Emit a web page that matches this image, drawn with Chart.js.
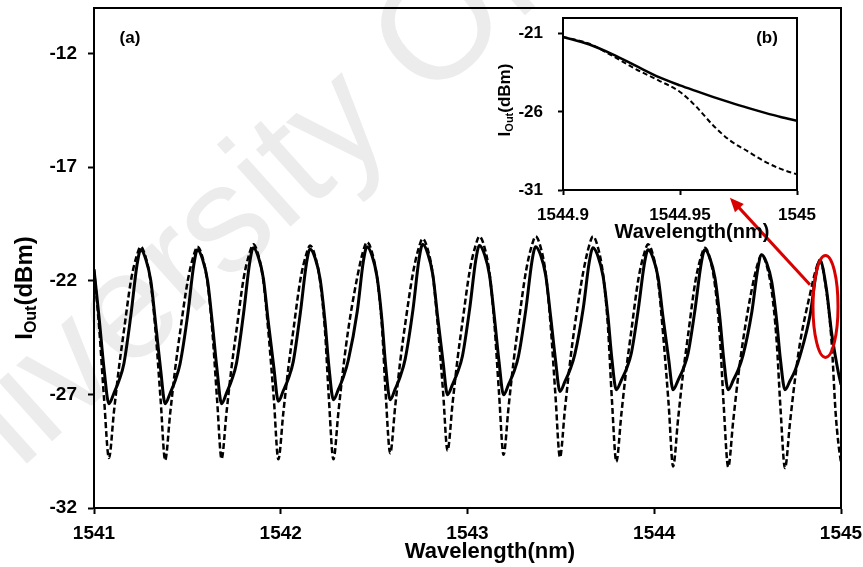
<!DOCTYPE html>
<html>
<head>
<meta charset="utf-8">
<script src="https://cdn.jsdelivr.net/npm/chart.js@4.4.1/dist/chart.umd.min.js"></script>
<style>
  body { margin: 0; background: #fff; }
  #wrap { position: relative; width: 863px; height: 567px; }
  #inset { position: absolute; left: 480px; top: 0; }
</style>
</head>
<body>
<div id="wrap">
  <canvas id="main" width="863" height="567"></canvas>
  <canvas id="inset" width="383" height="260"></canvas>
</div>
<script>
// main spectrum (a)
const wavelength = [
  1541.000, 1541.027, 1541.054, 1541.080,
  1541.107, 1541.134, 1541.160, 1541.198, 1541.230, 1541.250, 1541.277, 1541.304, 1541.330, 1541.357, 1541.381,
  1541.408, 1541.435, 1541.461, 1541.502, 1541.534, 1541.554, 1541.581, 1541.608, 1541.634, 1541.659, 1541.683,
  1541.710, 1541.737, 1541.763, 1541.801, 1541.833, 1541.853, 1541.880, 1541.907, 1541.933, 1541.963, 1541.987,
  1542.014, 1542.041, 1542.067, 1542.105, 1542.137, 1542.157, 1542.184, 1542.211, 1542.237, 1542.258, 1542.282,
  1542.309, 1542.336, 1542.362, 1542.410, 1542.442, 1542.462, 1542.489, 1542.516, 1542.542, 1542.562, 1542.586,
  1542.613, 1542.640, 1542.666, 1542.708, 1542.740, 1542.760, 1542.787, 1542.814, 1542.840, 1542.869, 1542.893,
  1542.920, 1542.947, 1542.973, 1543.012, 1543.044, 1543.064, 1543.091, 1543.118, 1543.144, 1543.169, 1543.193,
  1543.220, 1543.247, 1543.273, 1543.313, 1543.345, 1543.365, 1543.392, 1543.419, 1543.445, 1543.471, 1543.495,
  1543.522, 1543.549, 1543.575, 1543.620, 1543.652, 1543.672, 1543.699, 1543.726, 1543.752, 1543.773, 1543.797,
  1543.824, 1543.851, 1543.877, 1543.915, 1543.947, 1543.967, 1543.994, 1544.021, 1544.047, 1544.077, 1544.101,
  1544.128, 1544.155, 1544.181, 1544.219, 1544.251, 1544.271, 1544.298, 1544.325, 1544.351, 1544.372, 1544.396,
  1544.423, 1544.450, 1544.476, 1544.523, 1544.555, 1544.575, 1544.602, 1544.629, 1544.655, 1544.676, 1544.700,
  1544.727, 1544.754, 1544.780, 1544.835, 1544.867, 1544.887, 1544.921, 1544.950, 1544.971, 1544.986, 1545.000
];
const ioutSolid = [
  -21.50, -23.60, -25.90, -27.41,
  -26.94, -26.39, -25.65, -23.48, -21.32, -20.64, -21.05, -21.99, -23.89, -25.92, -27.41,
  -26.94, -26.39, -25.65, -23.48, -21.32, -20.64, -21.05, -21.99, -23.89, -25.92, -27.41,
  -26.93, -26.38, -25.63, -23.43, -21.24, -20.55, -20.96, -21.90, -23.79, -25.82, -27.30,
  -26.83, -26.30, -25.56, -23.41, -21.27, -20.60, -21.00, -21.93, -23.79, -25.78, -27.24,
  -26.77, -26.23, -25.49, -23.33, -21.17, -20.50, -20.90, -21.85, -23.74, -25.76, -27.24,
  -26.76, -26.21, -25.46, -23.27, -21.08, -20.40, -20.80, -21.72, -23.58, -25.56, -27.02,
  -26.56, -26.03, -25.31, -23.21, -21.11, -20.45, -20.84, -21.76, -23.60, -25.57, -27.02,
  -26.56, -26.04, -25.32, -23.24, -21.15, -20.50, -20.88, -21.77, -23.56, -25.47, -26.87,
  -26.43, -25.92, -25.23, -23.20, -21.18, -20.55, -20.93, -21.80, -23.55, -25.43, -26.80,
  -26.37, -25.88, -25.20, -23.23, -21.26, -20.64, -21.01, -21.87, -23.60, -25.44, -26.80,
  -26.37, -25.88, -25.20, -23.23, -21.26, -20.64, -21.01, -21.87, -23.60, -25.44, -26.80,
  -26.38, -25.91, -25.26, -23.35, -21.45, -20.86, -21.22, -22.05, -23.71, -25.49, -26.80,
  -26.40, -25.95, -25.32, -23.49, -21.67, -21.10, -22.31, -24.31, -25.38, -26.05, -26.57
];
const ioutDashed = [
  -21.50, -24.00, -27.20, -29.80,
  -27.75, -25.80, -24.22, -21.99, -20.87, -20.50, -20.97, -22.10, -24.26, -27.27, -29.90,
  -27.83, -25.86, -24.26, -22.00, -20.88, -20.50, -20.97, -22.09, -24.24, -27.22, -29.84,
  -27.76, -25.78, -24.18, -21.91, -20.78, -20.40, -20.87, -22.01, -24.18, -27.21, -29.86,
  -27.79, -25.81, -24.21, -21.96, -20.83, -20.45, -20.92, -22.05, -24.21, -27.23, -29.86,
  -27.76, -25.75, -24.12, -21.83, -20.68, -20.30, -20.76, -21.88, -24.02, -26.99, -29.59,
  -27.51, -25.53, -23.93, -21.66, -20.53, -20.15, -20.62, -21.73, -23.88, -26.86, -29.47,
  -27.40, -25.42, -23.82, -21.56, -20.43, -20.05, -20.53, -21.68, -23.89, -26.97, -29.66,
  -27.55, -25.53, -23.89, -21.59, -20.43, -20.05, -20.54, -21.70, -23.94, -27.05, -29.77,
  -27.63, -25.59, -23.94, -21.61, -20.44, -20.05, -20.55, -21.73, -24.01, -27.19, -29.96,
  -27.86, -25.85, -24.22, -21.93, -20.78, -20.40, -20.89, -22.06, -24.31, -27.43, -30.17,
  -28.05, -26.03, -24.40, -22.09, -20.93, -20.55, -21.03, -22.19, -24.41, -27.50, -30.20,
  -28.15, -26.18, -24.60, -22.35, -21.23, -20.86, -21.33, -22.45, -24.61, -27.61, -30.24,
  -28.23, -26.31, -24.76, -22.56, -21.47, -21.10, -22.41, -24.73, -27.79, -29.16, -30.00
];
const mainXTicks = [1541, 1542, 1543, 1544, 1545];
const mainYTicks = [-32, -27, -22, -17, -12];

// zoomed inset (b)
const insetWavelength = [1544.900, 1544.911, 1544.921, 1544.931, 1544.941, 1544.950, 1544.957,
  1544.964, 1544.971, 1544.979, 1544.986, 1544.993, 1545.000];
const insetSolid = [-21.21, -21.68, -22.31, -23.05, -23.78, -24.31, -24.68,
  -25.04, -25.38, -25.75, -26.05, -26.33, -26.57];
const insetDashed = [-21.21, -21.63, -22.41, -23.26, -24.00, -24.73, -25.68,
  -26.84, -27.79, -28.53, -29.16, -29.65, -30.00];
const insetXTicks = [1544.9, 1544.95, 1545];
const insetYTicks = [-31, -26, -21];

// red marker around the zoomed peak
const zoomRing = { x: 1544.917, y: -23.13, rx: 0.067, ry: 2.245 };
const zoomArrow = { fromX: 1544.834, fromY: -22.18, toX: 1544.405, toY: -18.35 };

const FONT = '"Liberation Sans", Arial, sans-serif';
Chart.defaults.font.family = FONT;
Chart.defaults.color = '#000';

const toPoints = (xs, ys) => xs.map((x, i) => ({ x: x, y: ys[i] }));

function drawIoutTitle(ctx, x, y, big, small) {
  ctx.save();
  ctx.translate(x, y);
  ctx.rotate(-Math.PI / 2);
  ctx.fillStyle = '#000';
  ctx.textBaseline = 'middle';
  ctx.textAlign = 'left';
  ctx.font = 'bold ' + big + 'px ' + FONT;
  const w1 = ctx.measureText('I').width;
  const w3 = ctx.measureText('(dBm)').width;
  ctx.font = 'bold ' + small + 'px ' + FONT;
  const w2 = ctx.measureText('Out').width;
  let sx = -(w1 + w2 + w3) / 2;
  ctx.font = 'bold ' + big + 'px ' + FONT;
  ctx.fillText('I', sx, 0);
  ctx.font = 'bold ' + small + 'px ' + FONT;
  ctx.fillText('Out', sx + w1, big * 0.28);
  ctx.font = 'bold ' + big + 'px ' + FONT;
  ctx.fillText('(dBm)', sx + w1 + w2, 0);
  ctx.restore();
}

const frame = {
  id: 'frame',
  afterDraw(chart) {
    const a = chart.chartArea, ctx = chart.ctx;
    ctx.save();
    ctx.strokeStyle = '#000';
    ctx.lineWidth = 2;
    ctx.strokeRect(a.left, a.top, a.right - a.left, a.bottom - a.top);
    ctx.restore();
  }
};

const watermark = {
  id: 'watermark',
  beforeDraw(chart) {
    const ctx = chart.ctx;
    ctx.save();
    ctx.translate(-100, 578);
    ctx.rotate(-42 * Math.PI / 180);
    ctx.font = '152px ' + FONT;
    ctx.fillStyle = '#ececec';
    ctx.fillText('University Of Malaya', 0, 0);
    ctx.restore();
  }
};

const mainText = {
  id: 'mainText',
  afterDraw(chart) {
    const ctx = chart.ctx;
    ctx.save();
    ctx.fillStyle = '#000';
    ctx.textAlign = 'center';
    ctx.textBaseline = 'middle';
    ctx.font = 'bold 22px ' + FONT;
    ctx.fillText('Wavelength(nm)', 490, 552);
    ctx.font = 'bold 17px ' + FONT;
    ctx.fillText('(a)', 130, 38);
    ctx.restore();
    drawIoutTitle(ctx, 25, 288, 24, 16);
  }
};

const marker = {
  id: 'marker',
  afterDatasetsDraw(chart) {
    const ctx = chart.ctx, sx = chart.scales.x, sy = chart.scales.y;
    const cx = sx.getPixelForValue(zoomRing.x), cy = sy.getPixelForValue(zoomRing.y);
    const rx = Math.abs(sx.getPixelForValue(zoomRing.x + zoomRing.rx) - cx);
    const ry = Math.abs(sy.getPixelForValue(zoomRing.y + zoomRing.ry) - cy);
    const x0 = sx.getPixelForValue(zoomArrow.fromX), y0 = sy.getPixelForValue(zoomArrow.fromY);
    const x1 = sx.getPixelForValue(zoomArrow.toX), y1 = sy.getPixelForValue(zoomArrow.toY);
    const ang = Math.atan2(y1 - y0, x1 - x0);
    ctx.save();
    ctx.strokeStyle = '#d90000';
    ctx.fillStyle = '#d90000';
    ctx.lineWidth = 3;
    ctx.beginPath();
    ctx.ellipse(cx, cy, rx, ry, 0, 0, Math.PI * 2);
    ctx.stroke();
    ctx.beginPath();
    ctx.moveTo(x0, y0);
    ctx.lineTo(x1 - 10 * Math.cos(ang), y1 - 10 * Math.sin(ang));
    ctx.stroke();
    ctx.beginPath();
    ctx.moveTo(x1, y1);
    ctx.lineTo(x1 - 14 * Math.cos(ang) + 6 * Math.sin(ang), y1 - 14 * Math.sin(ang) - 6 * Math.cos(ang));
    ctx.lineTo(x1 - 14 * Math.cos(ang) - 6 * Math.sin(ang), y1 - 14 * Math.sin(ang) + 6 * Math.cos(ang));
    ctx.closePath();
    ctx.fill();
    ctx.restore();
  }
};

const insetText = {
  id: 'insetText',
  afterDraw(chart) {
    const ctx = chart.ctx;
    ctx.save();
    ctx.fillStyle = '#000';
    ctx.textAlign = 'center';
    ctx.textBaseline = 'middle';
    ctx.font = 'bold 20px ' + FONT;
    ctx.fillText('Wavelength(nm)', 212, 232);
    ctx.font = 'bold 17px ' + FONT;
    ctx.fillText('(b)', 287, 38);
    ctx.restore();
    drawIoutTitle(ctx, 25, 100, 17, 11);
  }
};

function axis(ticks, fontSize, tickLen, pad, fixSize, horizontal, min, max) {
  return {
    type: 'linear',
    min: min,
    max: max,
    afterBuildTicks: (s) => { s.ticks = ticks.map(v => ({ value: v })); },
    afterFit: (s) => {
      if (horizontal) s.height = fixSize; else s.width = fixSize;
      s.paddingTop = 0; s.paddingBottom = 0; s.paddingLeft = 0; s.paddingRight = 0;
    },
    grid: { drawOnChartArea: false, drawTicks: true, tickLength: tickLen, tickColor: '#000', tickWidth: 2 },
    border: { display: true, color: '#000', width: 2 },
    ticks: {
      color: '#000',
      padding: pad,
      maxRotation: 0,
      autoSkip: false,
      font: { size: fontSize, weight: 'bold' },
      callback: v => String(v)
    }
  };
}

const lineSet = (data, dash, width) => ({
  data: data,
  borderColor: '#000',
  borderWidth: width,
  borderDash: dash,
  pointRadius: 0,
  fill: false,
  cubicInterpolationMode: 'monotone'
});

new Chart(document.getElementById('main'), {
  type: 'line',
  data: {
    datasets: [
      lineSet(toPoints(wavelength, ioutSolid), [], 3),
      lineSet(toPoints(wavelength, ioutDashed), [6, 3], 2.5)
    ]
  },
  options: {
    responsive: false,
    animation: false,
    layout: { padding: { top: 8, right: 22, left: 0, bottom: 0 } },
    plugins: { legend: { display: false }, tooltip: { enabled: false } },
    scales: {
      x: axis(mainXTicks, 19, 6, 8, 59, true, 1541, 1545),
      y: axis(mainYTicks, 19, 6, 11, 94, false, -32, -10)
    }
  },
  plugins: [watermark, frame, marker, mainText]
});

new Chart(document.getElementById('inset'), {
  type: 'line',
  data: {
    datasets: [
      lineSet(toPoints(insetWavelength, insetSolid), [], 2.5),
      lineSet(toPoints(insetWavelength, insetDashed), [5, 3], 2)
    ]
  },
  options: {
    responsive: false,
    animation: false,
    layout: { padding: { top: 18, right: 66, left: 0, bottom: 0 } },
    plugins: { legend: { display: false }, tooltip: { enabled: false } },
    scales: {
      x: axis(insetXTicks, 17, 5, 10, 70, true, 1544.9, 1545),
      y: axis(insetYTicks, 17, 5, 15, 83, false, -31, -20)
    }
  },
  plugins: [frame, insetText]
});
</script>
</body>
</html>
